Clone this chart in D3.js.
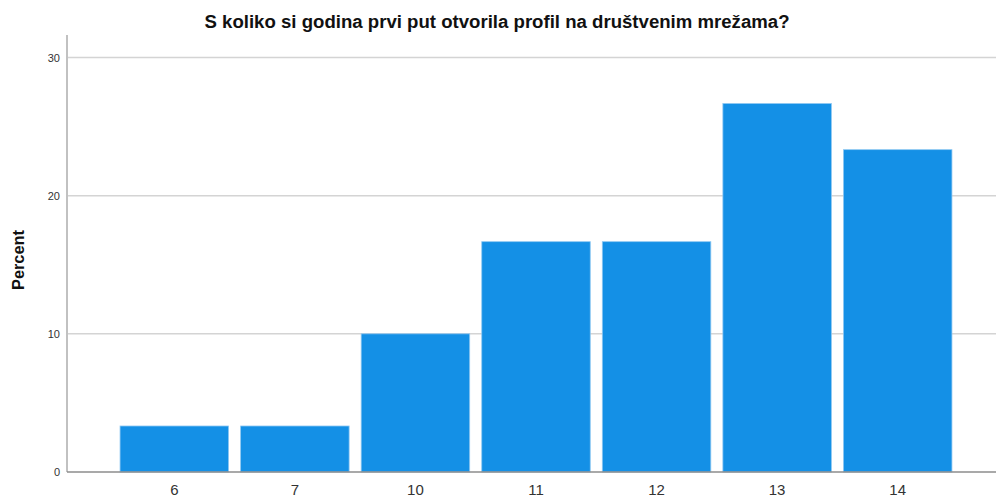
<!DOCTYPE html>
<html>
<head>
<meta charset="utf-8">
<script src="https://cdn.jsdelivr.net/npm/d3@7"></script>
<style>
  body { margin: 0; background: #fff; }
  text { font-family: "Liberation Sans", Arial, sans-serif; }
</style>
</head>
<body>
<script>
const width = 996;
const height = 497;

// values
const ages = ["6", "7", "10", "11", "12", "13", "14"];
const percents = [3.33, 3.33, 10.0, 16.67, 16.67, 26.67, 23.33];
const yTicks = [0, 10, 20, 30];

const x = d3.scaleBand()
	.domain(ages)
	.range([67, 1005])
	.paddingInner(0.1)
	.paddingOuter(0.44);

const y = d3.scaleLinear()
	.domain([0, 30])
	.range([472, 57.5]);

const svg = d3.select("body")
	.append("svg")
	.attr("width", width)
	.attr("height", height);

// gridlines
svg.selectAll("line.grid")
	.data(yTicks.filter(d => d > 0))
	.enter()
	.append("line")
	.attr("class", "grid")
	.attr("x1", 68)
	.attr("x2", width)
	.attr("y1", d => y(d))
	.attr("y2", d => y(d))
	.style("stroke", "#d4d4d4")
	.style("stroke-width", 1.5);

// bars
svg.selectAll("rect.bar")
	.data(ages)
	.enter()
	.append("rect")
	.attr("class", "bar")
	.attr("x", d => x(d))
	.attr("y", (d, i) => y(percents[i]))
	.attr("width", x.bandwidth())
	.attr("height", (d, i) => y(0) - y(percents[i]))
	.style("fill", "#1490e6")
	.style("stroke", "#8fc8f2")
	.style("stroke-width", 0.8);

// axes lines
svg.append("line")
	.attr("x1", 67).attr("x2", 67)
	.attr("y1", 35).attr("y2", y(0))
	.style("stroke", "#a0a0a0")
	.style("stroke-width", 1.3);

svg.append("line")
	.attr("x1", 67).attr("x2", width)
	.attr("y1", y(0)).attr("y2", y(0))
	.style("stroke", "#8c8c8c")
	.style("stroke-width", 1.3);

// y tick labels
svg.selectAll("text.ytick")
	.data(yTicks)
	.enter()
	.append("text")
	.attr("class", "ytick")
	.attr("x", 60)
	.attr("y", d => y(d) + 4)
	.attr("text-anchor", "end")
	.style("font-size", "11px")
	.style("fill", "#333")
	.text(d => d);

// x tick labels
svg.selectAll("text.xtick")
	.data(ages)
	.enter()
	.append("text")
	.attr("class", "xtick")
	.attr("x", d => x(d) + x.bandwidth() / 2)
	.attr("y", 495)
	.attr("text-anchor", "middle")
	.style("font-size", "15px")
	.style("fill", "#333")
	.text(d => d);

// y axis title
svg.append("text")
	.attr("transform", "translate(24,260) rotate(-90)")
	.attr("text-anchor", "middle")
	.attr("textLength", 60)
	.attr("lengthAdjust", "spacingAndGlyphs")
	.style("font-size", "16px")
	.style("font-weight", "bold")
	.style("fill", "#111")
	.text("Percent");

// chart title
svg.append("text")
	.attr("x", 497)
	.attr("y", 28)
	.attr("text-anchor", "middle")
	.attr("textLength", 585)
	.attr("lengthAdjust", "spacingAndGlyphs")
	.style("font-size", "18px")
	.style("font-weight", "bold")
	.style("fill", "#111")
	.text("S koliko si godina prvi put otvorila profil na društvenim mrežama?");
</script>
</body>
</html>
